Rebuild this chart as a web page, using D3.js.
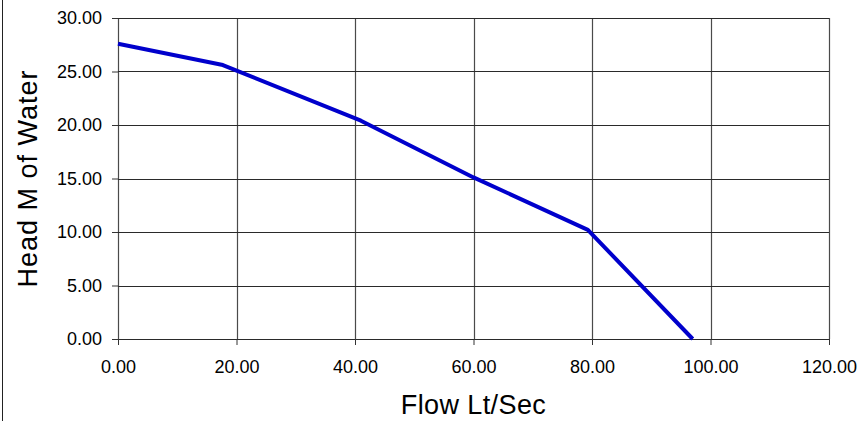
<!DOCTYPE html>
<html>
<head>
<meta charset="utf-8">
<script src="https://cdn.jsdelivr.net/npm/d3@7"></script>
<style>
  body { margin: 0; background: #fff; }
  svg text { font-family: "Liberation Sans", Arial, sans-serif; fill: #000; }
</style>
</head>
<body>
<div id="chart"></div>
<script>
// pump curve
var flow = [0, 17.7, 41, 60, 79.3, 97];
var head = [27.6, 25.6, 20.4, 15.1, 10.2, 0];
var xTicks = [0, 20, 40, 60, 80, 100, 120];
var yTicks = [0, 5, 10, 15, 20, 25, 30];

const W = 858, H = 421;
const margin = { top: 18, right: 29, bottom: 82, left: 118 };
const width = W - margin.left - margin.right;
const height = H - margin.top - margin.bottom;

const svg = d3.select("#chart").append("svg")
  .attr("width", W)
  .attr("height", H);

// outer frame edge on the left
svg.append("line")
  .attr("x1", 2.5).attr("x2", 2.5)
  .attr("y1", 0).attr("y2", H)
  .attr("stroke", "#222")
  .attr("stroke-width", 1);

const g = svg.append("g")
  .attr("transform", "translate(" + margin.left + "," + margin.top + ")");

const xScale = d3.scaleLinear().domain([0, 120]).range([0, width]);
const yScale = d3.scaleLinear().domain([0, 30]).range([height, 0]);

// grid
g.selectAll(".vgrid")
  .data(xTicks)
  .enter()
  .append("line")
  .attr("class", "vgrid")
  .attr("x1", d => Math.round(xScale(d)) + 0.5)
  .attr("x2", d => Math.round(xScale(d)) + 0.5)
  .attr("y1", 0)
  .attr("y2", height)
  .attr("stroke", "#4a4a4a")
  .attr("stroke-width", 1.2);

g.selectAll(".hgrid")
  .data(yTicks)
  .enter()
  .append("line")
  .attr("class", "hgrid")
  .attr("x1", 0)
  .attr("x2", width)
  .attr("y1", d => Math.round(yScale(d)) + 0.5)
  .attr("y2", d => Math.round(yScale(d)) + 0.5)
  .attr("stroke", "#2a2a2a")
  .attr("stroke-width", 1.2);

const xAxis = d3.axisBottom(xScale)
  .tickValues(xTicks)
  .tickFormat(d3.format(".2f"))
  .tickSize(6)
  .tickPadding(15);
const yAxis = d3.axisLeft(yScale)
  .tickValues(yTicks)
  .tickFormat(d3.format(".2f"))
  .tickSize(6)
  .tickPadding(10);

g.append("g")
  .attr("class", "xaxis")
  .attr("transform", "translate(0," + height + ")")
  .call(xAxis);

g.append("g")
  .attr("class", "yaxis")
  .call(yAxis);

g.selectAll(".xaxis .domain, .yaxis .domain").remove();
g.selectAll(".xaxis .tick line, .yaxis .tick line").attr("stroke", "#333");
g.selectAll(".xaxis text, .yaxis text")
  .style("font-family", "'Liberation Sans', Arial, sans-serif")
  .style("font-size", "18px")
  .attr("fill", "#000");

// curve
const points = flow.map((f, i) => [f, head[i]]);
const line = d3.line()
  .x(d => xScale(d[0]))
  .y(d => yScale(d[1]));

g.append("path")
  .datum(points)
  .attr("d", line)
  .attr("fill", "none")
  .attr("stroke", "#0000cc")
  .attr("stroke-width", 4)
  .attr("stroke-linejoin", "round");

// axis titles
svg.append("text")
  .attr("x", margin.left + width / 2)
  .attr("y", 414)
  .attr("text-anchor", "middle")
  .style("font-size", "27px")
  .style("letter-spacing", "0.4px")
  .text("Flow Lt/Sec");

svg.append("text")
  .attr("transform", "translate(37," + (margin.top + height / 2) + ") rotate(-90)")
  .attr("text-anchor", "middle")
  .style("font-size", "27px")
  .style("letter-spacing", "1px")
  .text("Head M of Water");
</script>
</body>
</html>
